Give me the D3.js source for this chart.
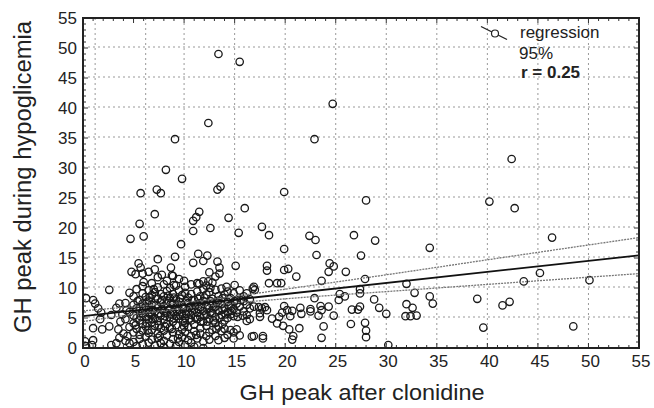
<!DOCTYPE html>
<html>
<head>
<meta charset="utf-8">
<script src="https://cdn.jsdelivr.net/npm/d3@7"></script>
<style>
  body { margin: 0; background: #fff; }
  svg text { font-family: "Liberation Sans", Arial, sans-serif; fill: #222; }
</style>
</head>
<body>
<div id="chart"></div>
<script>
let xTicks = [0, 5, 10, 15, 20, 25, 30, 35, 40, 45, 50, 55]
let yTicks = [0, 5, 10, 15, 20, 25, 30, 35, 40, 45, 50, 55]
let gridX = [1.2, 6.2, 10, 15, 20, 25, 30, 35, 40, 45, 50]
let gridY = [5, 10, 15, 20, 25, 30, 35, 40, 45, 50]

let regX = [0, 55]
let regY = [5.3, 15.45]
let ciX = [0, 5, 10, 15, 20, 30, 40, 55]
let ciUpper = [6.2, 6.9, 7.6, 8.6, 9.8, 12.2, 14.7, 18.4]
let ciLower = [4.4, 5.6, 6.6, 7.5, 8.2, 9.4, 10.6, 12.4]

let outliers = [[13.4,49],[15.5,47.7],[24.7,40.7],[12.4,37.5],[9.1,34.8],[22.9,34.8],[42.4,31.5],
  [8.2,29.7],[9.8,28.2],[13.6,26.9],[13.3,26.4],[19.9,26.0],[7.3,26.4],[7.7,25.8],[5.7,25.8],
  [28.0,24.6],[40.2,24.4],[42.7,23.3],[16.0,23.3],[7.1,22.3],[11.5,22.7],[11.2,21.8],[10.9,21.2],
  [14.4,21.7],[5.6,20.7],[12.6,20.0],[10.9,19.5],[15.4,19.2],[17.7,20.2],[18.4,18.8],[4.7,18.2],
  [6.0,18.6],[22.4,18.7],[23.0,18.0],[26.8,18.8],[28.9,17.9],[46.4,18.4],[34.3,16.7],[19.9,16.5],
  [23.1,15.5],[27.5,15.4],[9.7,17.3],[9.1,15.2],[7.4,14.8]]

let rightPoints = [[18.2,13.7],[18.2,12.9],[19.9,13.0],[20.3,13.2],[21.1,11.9],[24.4,14.1],[24.8,13.6],
  [24.3,12.7],[26.0,12.7],[23.6,11.2],[27.9,11.5],[32.0,10.7],[32.8,9.2],[27.4,9.8],[27.4,9.1],
  [25.4,9.0],[25.9,8.6],[25.3,8.0],[22.9,8.3],[28.8,8.1],[29.3,6.7],[30.0,5.7],[32.0,7.3],[32.6,6.7],
  [31.9,5.3],[32.4,5.3],[33.0,5.4],[34.3,8.6],[34.6,7.4],[26.6,6.4],[27.2,6.4],[27.4,6.9],[26.5,4.0],
  [27.9,4.2],[28.0,2.9],[28.0,1.8],[30.2,0.5],[23.8,3.6],[23.6,1.7],[24.8,5.4],[24.3,6.9],[23.5,7.0],
  [23.6,6.3],[22.5,6.5],[22.5,6.1],[23.3,5.4],[21.5,6.7],[21.6,5.7],[20.7,6.2],[19.9,7.0],[20.2,6.3],
  [19.7,5.9],[19.4,5.2],[20.5,5.3],[18.7,4.9],[19.2,4.1],[19.8,3.7],[20.4,3.1],[21.4,3.3],[20.8,2.0],
  [20.7,1.4],[17.8,2.0],[17.8,1.6],[16.9,2.0],[18.0,6.8],[17.4,6.8],[17.5,5.8],[16.9,10.2],[17.0,9.7],
  [19.2,10.8],[18.4,10.8],[16.9,6.9],[45.2,12.5],[43.6,11.1],[50.1,11.3],[39.0,8.2],[41.5,7.1],
  [42.2,7.7],[39.6,3.4],[48.5,3.6],[16.2,9.1],[16.8,9.9],[17.7,6.6],[18.2,6.3],[17.5,5.2],[16.5,4.8],
  [16.7,1.9],[19.6,10.8]]

let leftPoints = [[4.8,12.7],[5.5,14.1],[5.7,13.4],[5.9,12.4],[6.5,12.7],[5.2,12.3],[7.1,13.1],[7.8,12.2],
  [8.7,13.4],[8.8,12.1],[2.6,9.7],[0.3,8.3],[1.0,8.0],[1.2,7.4],[1.5,6.6],[1.8,5.9],[1.7,4.8],[1.0,3.3],
  [1.9,3.1],[2.6,3.6],[0.2,1.1],[0.3,0.3],[0.9,0.5],[1.0,1.3],[2.8,0.5],[3.3,0.8],[3.6,7.4],[3.3,6.7],
  [4.3,6.3],[3.9,5.6],[2.8,5.5],[3.7,4.4],[3.5,3.1],[4.0,2.4],[3.6,1.7],[4.4,2.0],[11.4,15.7],[12.3,15.4],
  [11.9,14.5],[10.9,14.2],[13.3,14.4],[13.5,13.4],[13.5,12.4],[13.1,11.9],[15.1,13.7],[12.5,12.6],
  [11.9,11.1],[11.5,10.7],[12.4,11.1]]

let cluster = [[4.2,7.5],[4.2,4.8],[4.2,1.2],[4.6,9.2],[4.6,6.0],[4.6,3.5],[4.6,0.8],
  [5.0,8.6],[5.0,7.2],[5.0,5.4],[5.0,4.1],[5.0,2.6],[5.0,1.0],[5.3,9.8],[5.3,6.6],[5.3,5.0],[5.3,3.2],[5.3,0.3],
  [5.6,8.0],[5.6,6.2],[5.6,4.6],[5.6,2.2],[5.6,1.5],[5.9,10.3],[5.9,9.1],[5.9,7.4],[5.9,5.8],[5.9,4.0],[5.9,2.9],[5.9,0.6],
  [6.2,8.5],[6.2,6.9],[6.2,5.2],[6.2,3.6],[6.2,1.9],[6.5,9.6],[6.5,7.9],[6.5,6.4],[6.5,4.8],[6.5,2.5],[6.5,0.9],
  [6.8,10.8],[6.8,8.8],[6.8,7.2],[6.8,5.6],[6.8,4.3],[6.8,3.0],[6.8,1.4],[7.1,9.3],[7.1,6.0],[7.1,5.0],[7.1,3.7],[7.1,0.4],
  [7.4,11.8],[7.4,10.1],[7.4,8.2],[7.4,6.7],[7.4,4.5],[7.4,2.4],[7.4,1.7],[7.7,9.0],[7.7,7.6],[7.7,5.4],[7.7,3.3],[7.7,0.8],
  [8.0,10.6],[8.0,8.6],[8.0,7.0],[8.0,6.1],[8.0,4.7],[8.0,2.9],[8.0,1.2],[8.0,0.2],
  [8.3,11.2],[8.3,9.5],[8.3,7.9],[8.3,5.8],[8.3,4.0],[8.3,2.1],[8.6,10.0],[8.6,8.3],[8.6,6.5],[8.6,5.1],[8.6,3.4],[8.6,0.7],
  [8.9,12.0],[8.9,9.0],[8.9,7.4],[8.9,6.0],[8.9,4.4],[8.9,2.6],[8.9,1.5],[9.2,10.4],[9.2,8.1],[9.2,6.8],[9.2,5.3],[9.2,3.8],[9.2,0.3],
  [9.5,11.5],[9.5,9.6],[9.5,7.7],[9.5,6.3],[9.5,4.9],[9.5,2.3],[9.5,1.0],[9.8,8.8],[9.8,7.1],[9.8,5.7],[9.8,3.1],[9.8,1.8],
  [10.1,10.2],[10.1,9.2],[10.1,6.6],[10.1,5.0],[10.1,4.2],[10.1,2.7],[10.1,0.5],[10.4,8.4],[10.4,7.5],[10.4,6.1],[10.4,3.5],[10.4,1.3],
  [10.7,10.6],[10.7,9.0],[10.7,7.0],[10.7,5.5],[10.7,4.6],[10.7,2.0],[10.7,0.9],[11.0,8.0],[11.0,6.4],[11.0,3.9],[11.0,2.8],[11.0,0.2],
  [11.3,10.8],[11.3,9.4],[11.3,7.3],[11.3,5.9],[11.3,4.8],[11.3,1.6],[11.6,8.6],[11.6,6.8],[11.6,5.2],[11.6,3.3],[11.6,2.4],
  [11.9,9.8],[11.9,7.8],[11.9,6.2],[11.9,4.4],[11.9,1.1],[11.9,0.0],[12.2,10.4],[12.2,8.9],[12.2,7.1],[12.2,5.6],[12.2,3.7],
  [12.5,9.3],[12.5,6.6],[12.5,4.9],[12.5,2.6],[12.5,1.4],[12.8,10.9],[12.8,8.2],[12.8,7.4],[12.8,5.8],[12.8,3.0],
  [13.1,9.7],[13.1,6.9],[13.1,5.1],[13.1,4.2],[13.1,2.0],[13.4,8.6],[13.4,7.9],[13.4,6.3],[13.4,3.6],[13.4,1.3],
  [13.7,9.9],[13.7,7.3],[13.7,5.5],[13.7,2.8],[14.0,8.9],[14.0,6.7],[14.0,4.6],[14.0,3.2],[14.0,1.7],
  [14.3,9.4],[14.3,7.7],[14.3,6.0],[14.3,5.0],[14.3,2.2],[14.6,8.3],[14.6,7.0],[14.6,5.6],[14.6,3.0],
  [14.9,9.1],[14.9,6.5],[14.9,5.3],[14.9,2.6],[14.9,1.6],[15.2,8.0],[15.2,7.4],[15.2,5.9],[15.2,3.1],
  [15.5,9.6],[15.5,6.9],[15.5,2.1],[15.9,8.6],[15.9,7.8],[15.9,6.1],[16.2,7.2],[16.2,5.5],[16.2,4.5],[16.5,8.1],[16.5,6.6]]

// the densest core, between the columns above
let core = [[5.4,7.8],[5.7,5.3],[6.0,6.6],[6.3,4.2],[6.3,7.6],[6.6,5.7],[6.6,8.4],[6.9,6.3],[6.9,4.8],
  [7.2,7.1],[7.2,8.6],[7.5,5.8],[7.5,3.8],[7.8,6.4],[7.8,8.0],[8.1,5.3],[8.1,3.6],[8.4,6.8],[8.4,8.7],
  [8.7,5.6],[8.7,7.4],[9.0,4.9],[9.0,8.4],[9.3,6.1],[9.3,7.4],[9.6,5.4],[9.6,8.2],[9.9,6.5],[9.9,4.5],
  [10.2,7.8],[10.2,5.7],[10.5,6.8],[10.5,4.9],[10.8,8.0],[10.8,6.1],[11.1,7.1],[11.1,5.1],[11.4,6.5],
  [11.4,8.2],[11.7,7.5],[11.7,4.4],[12.0,5.4],[12.0,8.4],[12.3,6.5],[12.3,4.4],[12.6,7.8],[12.6,5.9],
  [12.9,6.6],[12.9,4.6],[13.2,7.6],[13.2,3.2],[13.5,5.0],[13.8,6.4],[13.8,8.3],[14.1,5.6],[14.4,7.0],
  [14.7,6.2],[15.0,7.8],[15.3,5.2],[15.6,8.0],[15.8,5.4],[9.0,10.5],[10.0,11.2],[7.0,9.8],[6.0,11.0],
  [12.6,10.0],[14.2,10.2],[15.0,10.5],[5.2,3.8],[6.4,2.9],[7.6,2.0],[8.8,3.2],[10.0,3.6],[11.2,2.2],
  [12.2,2.0],[9.4,1.6],[13.8,4.0]]

let allPoints = outliers.concat(rightPoints, leftPoints, cluster, core)

let width = 654, height = 408
let margin = { top: 18, right: 15, bottom: 60, left: 83 }

let x = d3.scaleLinear().domain([0, 55]).range([margin.left, width - margin.right])
let y = d3.scaleLinear().domain([0, 55]).range([height - margin.bottom, margin.top])

let svg = d3.select("#chart").append("svg")
    .attr("width", width)
    .attr("height", height)

svg.append("clipPath").attr("id", "plot")
    .append("rect")
    .attr("x", x(0)).attr("y", y(55))
    .attr("width", x(55) - x(0)).attr("height", y(0) - y(55))

// dotted grid
svg.append("g").selectAll("line").data(gridX).enter().append("line")
    .attr("x1", d => x(d)).attr("x2", d => x(d))
    .attr("y1", y(55)).attr("y2", y(0))
    .attr("stroke", "#999").attr("stroke-width", 1).attr("stroke-dasharray", "2,3")
svg.append("g").selectAll("line").data(gridY).enter().append("line")
    .attr("x1", x(0)).attr("x2", x(55))
    .attr("y1", d => y(d) - 1).attr("y2", d => y(d) - 1)
    .attr("stroke", "#999").attr("stroke-width", 1).attr("stroke-dasharray", "2,3")

// inner minor ticks on all sides
let minor = d3.range(0, 56)
let tickG = svg.append("g").attr("stroke", "#333").attr("stroke-width", 1)
tickG.selectAll(".tb").data(minor).enter().append("line")
    .attr("x1", d => x(d)).attr("x2", d => x(d))
    .attr("y1", y(0)).attr("y2", d => y(0) - (d % 5 == 0 ? 5 : 3))
tickG.selectAll(".tt").data(minor).enter().append("line")
    .attr("x1", d => x(d)).attr("x2", d => x(d))
    .attr("y1", y(55)).attr("y2", d => y(55) + (d % 5 == 0 ? 5 : 3))
tickG.selectAll(".tl").data(minor).enter().append("line")
    .attr("y1", d => y(d)).attr("y2", d => y(d))
    .attr("x1", x(0)).attr("x2", d => x(0) + (d % 5 == 0 ? 5 : 3))
tickG.selectAll(".tr").data(minor).enter().append("line")
    .attr("y1", d => y(d)).attr("y2", d => y(d))
    .attr("x1", x(55)).attr("x2", d => x(55) - (d % 5 == 0 ? 5 : 3))

// points
svg.append("g").attr("clip-path", "url(#plot)")
    .selectAll("circle").data(allPoints).enter().append("circle")
    .attr("cx", d => x(d[0]))
    .attr("cy", d => y(d[1]))
    .attr("r", 3.7)
    .attr("fill", "none")
    .attr("stroke", "#1a1a1a")
    .attr("stroke-width", 1.3)

// confidence band and regression
let ciLine = d3.line().x(d => x(d[0])).y(d => y(d[1])).curve(d3.curveMonotoneX)
svg.append("path").datum(ciX.map((v, i) => [v, ciUpper[i]]))
    .attr("d", ciLine).attr("fill", "none")
    .attr("stroke", "#777").attr("stroke-width", 1.3).attr("stroke-dasharray", "2,1")
svg.append("path").datum(ciX.map((v, i) => [v, ciLower[i]]))
    .attr("d", ciLine).attr("fill", "none")
    .attr("stroke", "#777").attr("stroke-width", 1.3).attr("stroke-dasharray", "2,1")
svg.append("path").datum(regX.map((v, i) => [v, regY[i]]))
    .attr("d", d3.line().x(d => x(d[0])).y(d => y(d[1])))
    .attr("fill", "none").attr("stroke", "#111").attr("stroke-width", 1.8)

// frame
svg.append("rect")
    .attr("x", x(0)).attr("y", y(55))
    .attr("width", x(55) - x(0)).attr("height", y(0) - y(55))
    .attr("fill", "none").attr("stroke", "#222").attr("stroke-width", 2)

// tick labels
svg.append("g").selectAll("text").data(xTicks).enter().append("text")
    .attr("x", d => x(d) + 2).attr("y", 367)
    .attr("text-anchor", "middle")
    .attr("font-size", 17)
    .text(d => d)
svg.append("g").selectAll("text").data(yTicks).enter().append("text")
    .attr("x", 77).attr("y", d => y(d) + 6)
    .attr("text-anchor", "end")
    .attr("font-size", 17)
    .text(d => d)

// axis titles
svg.append("text")
    .attr("x", 362).attr("y", 400)
    .attr("text-anchor", "middle")
    .attr("font-size", 22)
    .attr("textLength", 245).attr("lengthAdjust", "spacingAndGlyphs")
    .text("GH peak after clonidine")
svg.append("text")
    .attr("transform", "translate(31,177) rotate(-90)")
    .attr("text-anchor", "middle")
    .attr("font-size", 23)
    .attr("textLength", 312).attr("lengthAdjust", "spacingAndGlyphs")
    .text("GH peak during hypoglicemia")

// legend
let leg = svg.append("g")
leg.append("line").attr("x1", 481).attr("y1", 26.5).attr("x2", 507).attr("y2", 39.5)
    .attr("stroke", "#222").attr("stroke-width", 1.3)
leg.append("circle").attr("cx", 495).attr("cy", 33.5).attr("r", 3.5)
    .attr("fill", "#fff").attr("stroke", "#222").attr("stroke-width", 1.2)
leg.append("text").attr("x", 520).attr("y", 38).attr("font-size", 17).text("regression")
leg.append("text").attr("x", 519).attr("y", 59).attr("font-size", 17).text("95%")
leg.append("text").attr("x", 521).attr("y", 78).attr("font-size", 17)
    .attr("font-weight", "bold").text("r = 0.25")
</script>
</body>
</html>
